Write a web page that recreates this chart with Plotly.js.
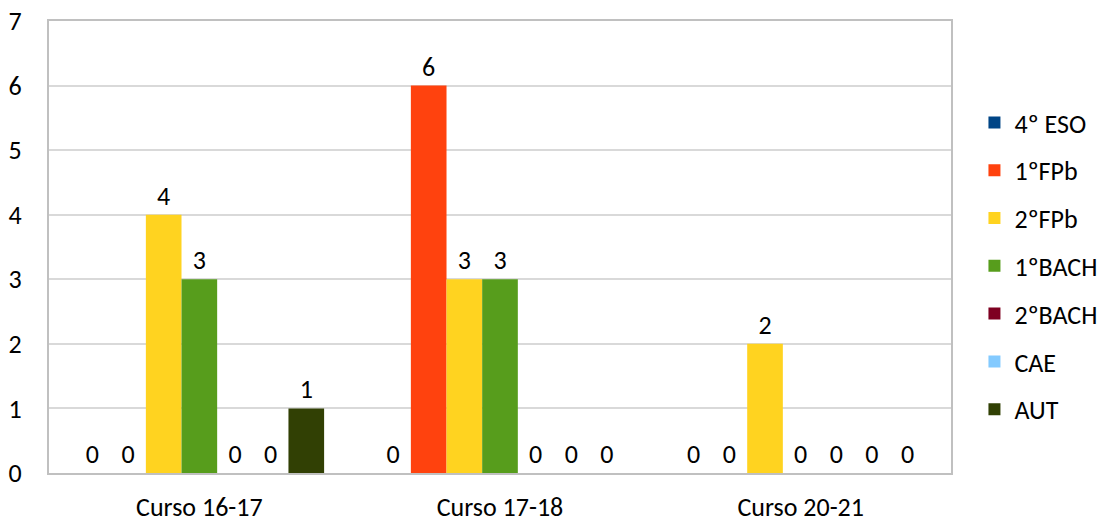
<!DOCTYPE html>
<html>
<head>
<meta charset="utf-8">
<script src="https://cdn.plot.ly/plotly-3.0.1.min.js"></script>
<style>html,body{margin:0;padding:0;background:#fff;}#chart{width:1114px;height:522px;}</style>
</head>
<body>
<div id="chart"></div>
<script>
const categories = ["Curso 16-17", "Curso 17-18", "Curso 20-21"];
const seriesNames = ["4º ESO", "1ºFPb", "2ºFPb", "1ºBACH", "2ºBACH", "CAE", "AUT"];
const eso4   = [0, 0, 0];
const fpb1   = [0, 6, 0];
const fpb2   = [4, 3, 2];
const bach1  = [3, 3, 0];
const bach2  = [0, 0, 0];
const cae    = [0, 0, 0];
const aut    = [1, 0, 0];
const seriesValues = [eso4, fpb1, fpb2, bach1, bach2, cae, aut];
const colors = ["#004586", "#ff420e", "#ffd320", "#579d1c", "#7e0021", "#83caff", "#314004"];
const yTicks = [0, 1, 2, 3, 4, 5, 6, 7];

const font = "Carlito, Lato, 'Open Sans', sans-serif";
const traces = seriesNames.map((name, i) => ({
  type: "bar",
  name: name,
  x: categories,
  y: seriesValues[i],
  marker: {color: colors[i]},
  text: seriesValues[i].map(String),
  textposition: "outside",
  cliponaxis: false,
  textfont: {family: font, size: 26, color: "#000"},
  legendgroup: "g" + i
}));

const layout = {
  width: 1114, height: 522,
  margin: {l: 49, r: 163, t: 21, b: 49, autoexpand: false},
  paper_bgcolor: "#fff", plot_bgcolor: "#fff",
  barmode: "group", bargap: 0.17, bargroupgap: 0,
  font: {family: font, size: 26, color: "#000"},
  showlegend: true,
  legend: {x: 1.026, y: 0.458, xanchor: "left", yanchor: "middle",
           font: {family: font, size: 26, color: "#000"}, tracegroupgap: 11,
           itemwidth: 30},
  xaxis: {showline: true, linecolor: "#c0c0c0", linewidth: 2, mirror: true,
          ticks: "", tickfont: {family: font, size: 26}, ticklabelstandoff: 10, showgrid: false},
  yaxis: {range: [0, 7], tickvals: yTicks, ticktext: yTicks.map(String), showline: true, linecolor: "#c0c0c0",
          linewidth: 2, mirror: true, gridcolor: "#d9d9d9", gridwidth: 1.5, ticks: "",
          tickfont: {family: font, size: 26}, ticklabelstandoff: 20, zeroline: false}
};
Plotly.newPlot("chart", traces, layout, {displayModeBar: false});
</script>
</body>
</html>
